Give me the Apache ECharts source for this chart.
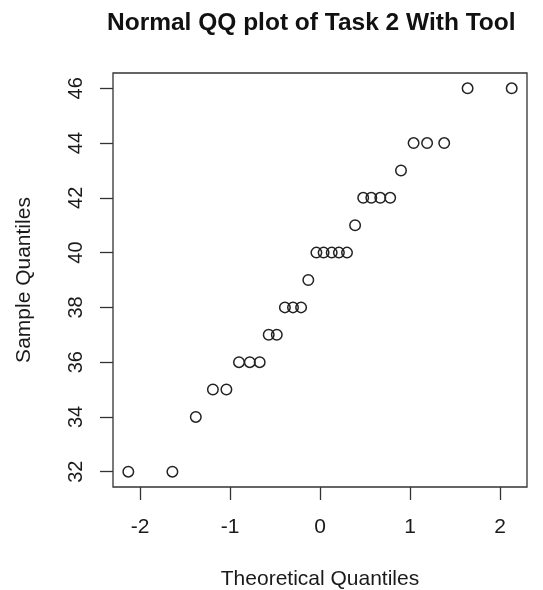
<!DOCTYPE html>
<html>
<head>
<meta charset="utf-8">
<script src="https://cdn.jsdelivr.net/npm/echarts@6/dist/echarts.min.js"></script>
<style>
  html, body { margin: 0; padding: 0; background: #fff; }
  #chart { width: 543px; height: 590px; }
</style>
</head>
<body>
<div id="chart"></div>
<script>
// Theoretical normal quantiles for n = 30 (sorted)
var theoretical = [-2.13, -1.64, -1.38, -1.19, -1.04, -0.90, -0.78, -0.67, -0.57, -0.48,
                   -0.39, -0.30, -0.21, -0.13, -0.04, 0.04, 0.13, 0.21, 0.30, 0.39,
                   0.48, 0.57, 0.67, 0.78, 0.90, 1.04, 1.19, 1.38, 1.64, 2.13];
// Observed scores, sorted
var sample = [32, 32, 34, 35, 35, 36, 36, 36, 37, 37,
              38, 38, 38, 39, 40, 40, 40, 40, 40, 41,
              42, 42, 42, 42, 43, 44, 44, 44, 46, 46];
var xTicks = [-2, -1, 0, 1, 2];
var yTicks = [32, 34, 36, 38, 40, 42, 44, 46];

var FONT = '"Liberation Sans", Arial, Helvetica, sans-serif';
var INK = '#1a1a1a';
var LINE = '#333';

var points = theoretical.map(function (q, i) { return [q, sample[i]]; });

var chart = echarts.init(document.getElementById('chart'), null, { renderer: 'canvas' });
chart.setOption({
  animation: false,
  backgroundColor: '#ffffff',
  title: {
    text: 'Normal QQ plot of Task 2 With Tool',
    left: 102,
    top: 6,
    textStyle: { fontFamily: FONT, fontSize: 24.5, fontWeight: 'bold', color: '#111' }
  },
  grid: {
    left: 113, top: 73, right: 16, bottom: 103,
    outerBoundsMode: 'none',
    containLabel: false,
    show: true, borderColor: LINE, borderWidth: 1.3
  },
  xAxis: {
    type: 'value',
    min: -2.30, max: 2.30,
    name: 'Theoretical Quantiles',
    nameLocation: 'middle',
    nameGap: 82,
    nameTextStyle: { fontFamily: FONT, fontSize: 21, color: INK },
    splitLine: { show: false },
    axisLine: { show: false, onZero: false },
    axisTick: { show: true, length: 13, customValues: xTicks, lineStyle: { color: LINE, width: 1.3 } },
    axisLabel: { customValues: xTicks, margin: 30, fontFamily: FONT, fontSize: 21, color: INK }
  },
  yAxis: {
    type: 'value',
    min: 31.44, max: 46.56,
    name: 'Sample Quantiles',
    nameLocation: 'middle',
    nameRotate: 90,
    nameGap: 78,
    nameTextStyle: { fontFamily: FONT, fontSize: 21, color: INK },
    splitLine: { show: false },
    axisLine: { show: false, onZero: false },
    axisTick: { show: true, length: 13, customValues: yTicks, lineStyle: { color: LINE, width: 1.3 } },
    axisLabel: { customValues: yTicks, rotate: 90, margin: 27, fontFamily: FONT, fontSize: 20, color: INK }
  },
  series: [{
    type: 'scatter',
    data: points,
    symbol: 'circle',
    symbolSize: 10.5,
    itemStyle: { color: 'rgba(255,255,255,0)', borderColor: '#222', borderWidth: 1.5, opacity: 1 },
    z: 5
  }]
});
</script>
</body>
</html>
